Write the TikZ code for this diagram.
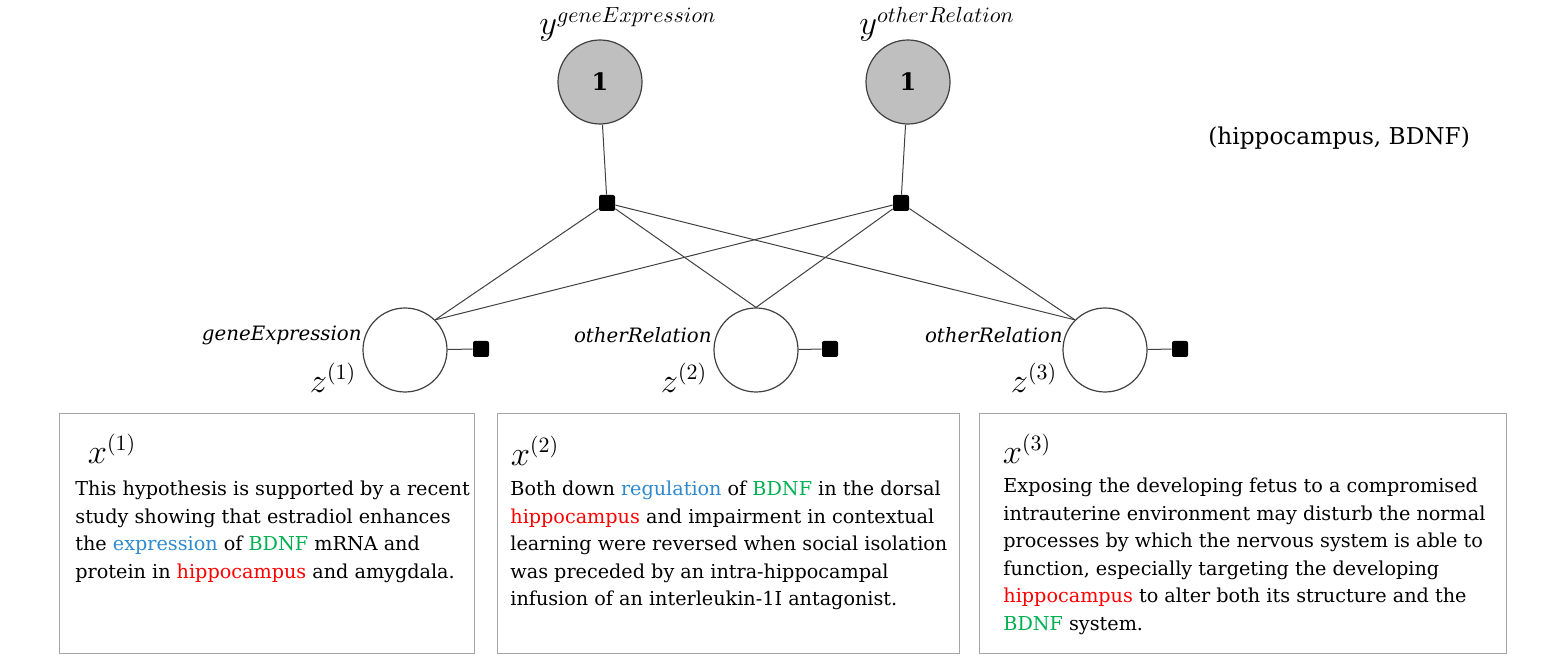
\documentclass[tikz,border=0pt]{standalone}
\usepackage{fontspec}
\setmainfont{DejaVu Serif}
\usetikzlibrary{positioning}
\definecolor{termblue}{RGB}{46,137,206}
\definecolor{termgreen}{RGB}{0,176,80}
\definecolor{termred}{RGB}{255,0,0}
\definecolor{boxgray}{RGB}{165,165,165}
\definecolor{obsgray}{RGB}{191,191,191}

\begin{document}
\begin{tikzpicture}[x=0.5pt, y=-0.5pt,
    obs/.style={circle, draw=black!75, line width=0.6pt, fill=obsgray, minimum size=42pt, inner sep=0pt, font=\fontsize{12}{14}\selectfont\bfseries},
    latent/.style={circle, draw=black!75, line width=0.6pt, fill=white, minimum size=42pt, inner sep=0pt},
    fac/.style={rectangle, fill=black, minimum size=8pt, inner sep=0pt, rounded corners=1pt},
    edge/.style={draw=black!75, line width=0.5pt},
    doc/.style={draw=boxgray, line width=0.5pt, minimum height=119.5pt, inner sep=0pt},
    body/.style={anchor=north west, inner sep=0pt, align=left, font=\fontsize{9.6}{13.75}\selectfont},
    lbl/.style={inner sep=0pt, font=\fontsize{9.9}{11}\selectfont},
    var/.style={inner sep=0pt, font=\fontsize{16.2}{18}\selectfont}
  ]
    \useasboundingbox (0,0) rectangle (1556,672);

    \node[obs] (y1) at (600,82) {1};
    \node[obs] (y2) at (908,82) {1};
    \node[var, anchor=base west] (ly1) at (539,35) {$y^{geneExpression}$};
    \node[var, anchor=base west] (ly2) at (859,35) {$y^{otherRelation}$};

    \node[fac] (f1) at (607,203) {};
    \node[fac] (f2) at (901,203) {};

    \node[latent] (z1) at (405,350) {};
    \node[latent] (z2) at (756,350) {};
    \node[latent] (z3) at (1105,350) {};
    \node[fac] (s1) at (481,349) {};
    \node[fac] (s2) at (830,349) {};
    \node[fac] (s3) at (1180,349) {};

    \node[lbl, anchor=east] (r1) at (362,335) {\itshape geneExpression};
    \node[lbl, anchor=east] (r2) at (712,335) {\itshape otherRelation};
    \node[lbl, anchor=east] (r3) at (1063,335) {\itshape otherRelation};
    \node[var] (lz1) at (333,378) {$z^{(1)}$};
    \node[var] (lz2) at (684,378) {$z^{(2)}$};
    \node[var] (lz3) at (1034,378) {$z^{(3)}$};

    \node[lbl, anchor=west, font=\fontsize{11.6}{13}\selectfont] (pair) at (1208,138) {(hippocampus, BDNF)};

    \draw[edge] (y1) -- (f1);
    \draw[edge] (y2) -- (f2);
    \draw[edge] (f1) -- (z1.45);
    \draw[edge] (f1) -- (z2.north);
    \draw[edge] (f1) -- (z3.135);
    \draw[edge] (f2) -- (z1.45);
    \draw[edge] (f2) -- (z2.north);
    \draw[edge] (f2) -- (z3.135);
    \draw[edge] (z1) -- (s1);
    \draw[edge] (z2) -- (s2);
    \draw[edge] (z3) -- (s3);

    \node[doc, minimum width=207.5pt] (d1) at (266.5,533.5) {};
    \node[doc, minimum width=231pt] (d2) at (728,533.5) {};
    \node[doc, minimum width=263.5pt] (d3) at (1242.5,533.5) {};
    \node[var] (lx1) at (112,449) {$x^{(1)}$};
    \node[var] (lx2) at (535,451) {$x^{(2)}$};
    \node[var] (lx3) at (1027,449) {$x^{(3)}$};

    \node[body] (t1) at (75,481) {This hypothesis is supported by a recent\\
      study showing that estradiol enhances\\
      the \textcolor{termblue}{expression} of \textcolor{termgreen}{BDNF} mRNA and\\
      protein in \textcolor{termred}{hippocampus} and amygdala.};
    \node[body] (t2) at (510,481) {Both down \textcolor{termblue}{regulation} of \textcolor{termgreen}{BDNF} in the dorsal\\
      \textcolor{termred}{hippocampus} and impairment in contextual\\
      learning were reversed when social isolation\\
      was preceded by an intra-hippocampal\\
      infusion of an interleukin-1I antagonist.};
    \node[body] (t3) at (1003,478) {Exposing the developing fetus to a compromised\\
      intrauterine environment may disturb the normal\\
      processes by which the nervous system is able to\\
      function, especially targeting the developing\\
      \textcolor{termred}{hippocampus} to alter both its structure and the\\
      \textcolor{termgreen}{BDNF} system.};
  \end{tikzpicture}
\end{document}
